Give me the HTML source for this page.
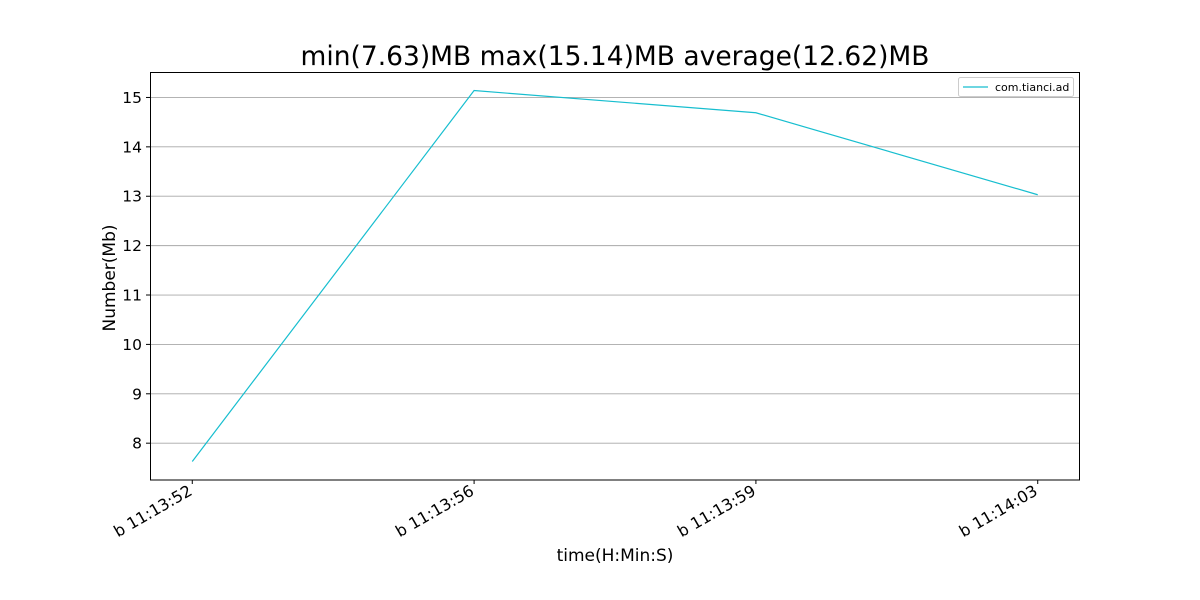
<!DOCTYPE html>
<html><head><meta charset="utf-8"><style>
body{margin:0;background:#fff;}
svg{display:block;font-family:"DejaVu Sans","Liberation Sans",sans-serif;}
</style></head><body>
<svg id="chart" width="1200" height="600">
<rect width="1200" height="600" fill="#fff"/>
<text x="615" y="65" font-size="26.5" text-anchor="middle">min(7.63)MB max(15.14)MB average(12.62)MB</text>
<g id="grid"></g><g id="yticks"></g><g id="xticks"></g>
<polyline id="line" fill="none" stroke="#17becf" stroke-width="1.2"/>
<rect x="150.5" y="72.5" width="929" height="407.5" fill="none" stroke="#000" stroke-width="1"/>
<text x="615" y="561" font-size="17" text-anchor="middle">time(H:Min:S)</text>
<text transform="translate(115,278) rotate(-90)" font-size="17" text-anchor="middle">Number(Mb)</text>
<g>
<rect x="958.5" y="77.5" width="115" height="19" fill="#fff" stroke="#ccc" rx="2"/>
<line x1="963" y1="87" x2="988" y2="87" stroke="#17becf" stroke-width="1.2"/>
<text x="995" y="91" font-size="11">com.tianci.ad</text>
</g>
</svg>
<script>
const categories=["b 11:13:52","b 11:13:56","b 11:13:59","b 11:14:03"];
const values=[7.63,15.14,14.69,13.03];
const yTicks=[8,9,10,11,12,13,14,15];
const L=150,R=1080,T=72,B=480;
const mn=Math.min(...values),mx=Math.max(...values),pad=(mx-mn)*0.05;
const y0=mn-pad,y1=mx+pad;
const ys=v=>B-(v-y0)/(y1-y0)*(B-T);
const n=categories.length;
const xs=i=>L+(i+0.15)/(n-1+0.3)*(R-L);
const ns="http://www.w3.org/2000/svg";
const g=document.getElementById('grid'),yt=document.getElementById('yticks'),xt=document.getElementById('xticks');
function mk(tag,attrs,parent){const e=document.createElementNS(ns,tag);for(const k in attrs)e.setAttribute(k,attrs[k]);parent.appendChild(e);return e;}
yTicks.forEach(t=>{const y=ys(t);
const gl=mk('line',{x1:L,x2:R,y1:y,y2:y,stroke:'#a8a8a8','stroke-width':0.9},g);


mk('line',{x1:L-4,x2:L,y1:y,y2:y,stroke:'#000'},yt);
const tx=mk('text',{x:L-8,y:y+5.5,'font-size':15.5,'text-anchor':'end'},yt);tx.textContent=t;


});
categories.forEach((c,i)=>{const x=xs(i);
mk('line',{x1:x,x2:x,y1:B,y2:B+4,stroke:'#000'},xt);
const tx=mk('text',{transform:`translate(${x+1},${B+14}) rotate(-30)`,'font-size':16,'text-anchor':'end'},xt);tx.textContent=c;


});
document.getElementById('line').setAttribute('points',values.map((v,i)=>xs(i)+','+ys(v)).join(' '));
</script>
</body></html>
